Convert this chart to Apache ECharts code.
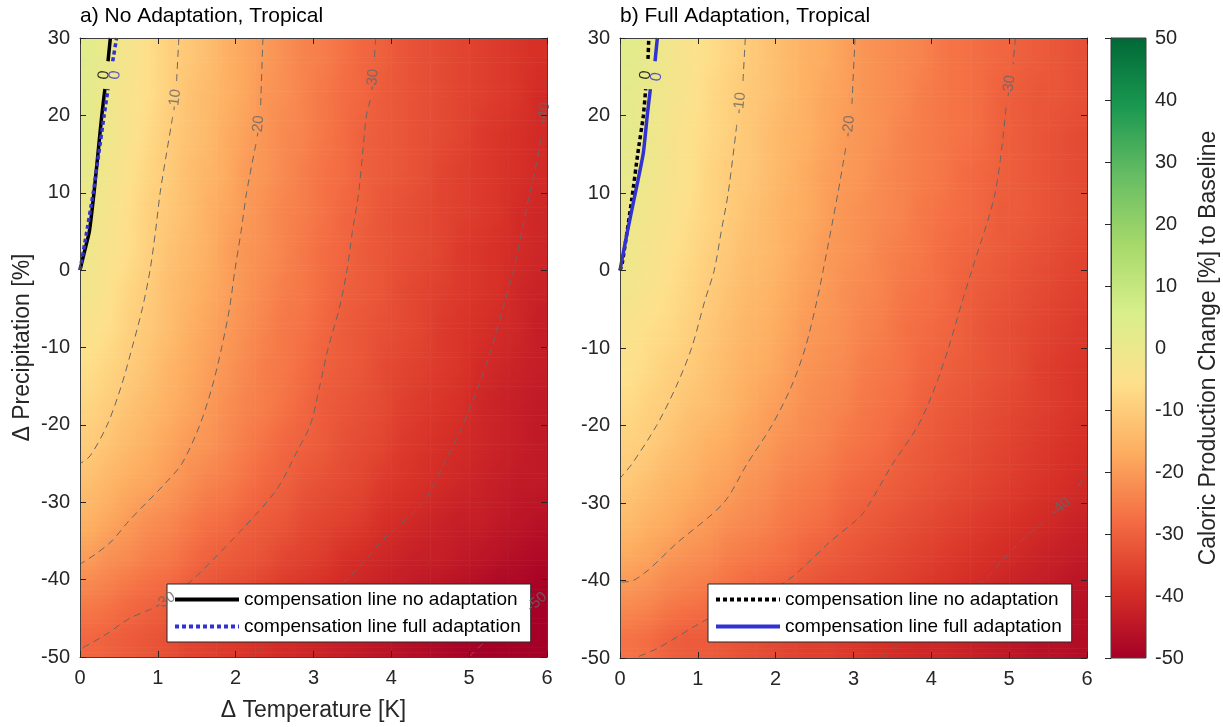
<!DOCTYPE html>
<html>
<head>
<meta charset="utf-8">
<title>Caloric production change, tropical</title>
<script src="https://cdn.jsdelivr.net/npm/echarts@6/dist/echarts.min.js"></script>
<style>
  html, body { margin: 0; padding: 0; background: #fff; }
  #chart { width: 1223px; height: 727px; }
</style>
</head>
<body>
<div id="chart"></div>
<script>
// cell centres of the colour field (K, %)
const tempCenters = [0.125, 0.375, 0.625, 0.875, 1.125, 1.375, 1.625, 1.875, 2.125, 2.375, 2.625, 2.875,
  3.125, 3.375, 3.625, 3.875, 4.125, 4.375, 4.625, 4.875, 5.125, 5.375, 5.625, 5.875];
const precipCenters = [27.5, 22.5, 17.5, 12.5, 7.5, 2.5, -2.5, -7.5, -12.5, -17.5, -22.5, -27.5, -32.5, -37.5, -42.5, -47.5];
const T_STEP = 0.25, P_STEP = 5;

// caloric production change [%], one row per precipCenters entry
const heatNoAdapt = [
  [3, 0, -3, -6, -9, -11, -13, -16, -18, -20, -22, -24, -25, -27, -29, -30, -32, -33, -34, -35, -36, -37, -38, -39],
  [2, -1, -4, -6, -9, -12, -14, -16, -18, -21, -22, -24, -26, -28, -29, -31, -32, -33, -34, -35, -36, -37, -38, -40],
  [2, -1, -4, -7, -10, -12, -14, -17, -19, -21, -23, -24, -26, -28, -30, -31, -32, -33, -34, -35, -37, -38, -39, -40],
  [1, -2, -5, -8, -10, -13, -15, -17, -20, -21, -23, -25, -27, -28, -30, -31, -32, -33, -35, -36, -37, -38, -39, -40],
  [0, -3, -6, -9, -11, -13, -16, -18, -20, -22, -24, -25, -27, -29, -30, -32, -33, -34, -35, -36, -37, -38, -40, -41],
  [-1, -4, -6, -9, -12, -14, -16, -19, -21, -22, -24, -26, -28, -29, -31, -32, -33, -34, -35, -37, -38, -39, -40, -41],
  [-2, -5, -8, -10, -13, -15, -17, -19, -21, -23, -25, -26, -28, -30, -31, -32, -34, -35, -36, -37, -38, -39, -41, -42],
  [-4, -6, -9, -11, -13, -16, -18, -20, -22, -24, -26, -27, -29, -31, -32, -33, -34, -35, -37, -38, -39, -40, -41, -43],
  [-6, -8, -10, -12, -15, -17, -19, -21, -23, -25, -26, -28, -30, -31, -32, -34, -35, -36, -37, -38, -40, -41, -42, -43],
  [-8, -10, -12, -14, -16, -18, -20, -22, -24, -25, -27, -29, -31, -32, -33, -34, -36, -37, -38, -39, -41, -42, -43, -44],
  [-10, -12, -14, -16, -18, -20, -21, -23, -25, -27, -29, -30, -31, -33, -34, -35, -37, -38, -39, -40, -41, -42, -43, -44],
  [-13, -15, -17, -18, -20, -22, -24, -25, -27, -29, -30, -32, -33, -34, -35, -37, -38, -39, -40, -41, -42, -43, -44, -44],
  [-16, -18, -20, -22, -23, -25, -27, -28, -30, -31, -32, -34, -35, -36, -37, -39, -40, -41, -42, -43, -43, -44, -45, -46],
  [-20, -22, -23, -25, -26, -28, -30, -31, -32, -33, -35, -36, -37, -39, -40, -41, -42, -43, -43, -44, -45, -46, -47, -48],
  [-25, -26, -28, -29, -30, -32, -33, -34, -35, -37, -38, -39, -40, -41, -42, -43, -44, -45, -46, -47, -48, -49, -49, -50],
  [-29, -30, -31, -32, -33, -35, -36, -37, -38, -39, -40, -41, -42, -43, -44, -45, -46, -47, -48, -49, -50, -50, -50, -50]
];
const heatFullAdapt = [
  [3, 1, -2, -4, -6, -8, -10, -12, -14, -16, -17, -19, -21, -22, -23, -24, -26, -27, -28, -29, -30, -31, -32, -33],
  [2, 0, -2, -4, -7, -9, -11, -12, -14, -16, -18, -19, -21, -22, -23, -25, -26, -27, -28, -30, -31, -32, -32, -33],
  [2, 0, -3, -5, -7, -9, -11, -13, -15, -16, -18, -20, -21, -22, -24, -25, -26, -27, -28, -30, -31, -32, -33, -34],
  [1, -1, -3, -5, -8, -10, -11, -13, -15, -17, -19, -20, -21, -23, -24, -25, -26, -28, -29, -30, -31, -32, -33, -34],
  [0, -2, -4, -6, -8, -10, -12, -14, -16, -17, -19, -21, -22, -23, -24, -26, -27, -28, -29, -31, -31, -32, -33, -34],
  [-1, -3, -5, -7, -9, -11, -13, -14, -16, -18, -20, -21, -22, -24, -25, -26, -28, -29, -30, -31, -32, -33, -34, -35],
  [-2, -4, -6, -8, -10, -12, -14, -15, -17, -19, -20, -22, -23, -24, -26, -27, -28, -30, -31, -32, -33, -34, -35, -36],
  [-4, -6, -7, -9, -11, -13, -15, -16, -18, -20, -21, -22, -24, -25, -27, -28, -29, -30, -32, -33, -34, -35, -36, -37],
  [-5, -7, -9, -10, -12, -14, -16, -17, -19, -21, -22, -23, -25, -26, -27, -29, -30, -31, -32, -33, -34, -36, -37, -38],
  [-7, -9, -10, -12, -13, -15, -17, -19, -20, -22, -23, -24, -26, -27, -28, -30, -31, -32, -33, -34, -35, -36, -37, -38],
  [-9, -10, -12, -14, -16, -17, -19, -20, -22, -23, -24, -26, -27, -28, -30, -31, -32, -33, -34, -35, -36, -37, -38, -39],
  [-11, -13, -15, -16, -18, -19, -21, -22, -24, -25, -26, -28, -29, -30, -31, -32, -33, -34, -35, -36, -37, -38, -39, -40],
  [-14, -16, -17, -19, -20, -22, -23, -24, -26, -27, -28, -30, -31, -32, -33, -34, -35, -36, -37, -38, -39, -40, -41, -42],
  [-18, -19, -21, -22, -23, -25, -26, -27, -28, -30, -31, -32, -33, -34, -35, -36, -37, -38, -39, -40, -41, -42, -43, -44],
  [-22, -23, -25, -26, -27, -28, -30, -31, -32, -33, -34, -35, -35, -36, -37, -38, -39, -40, -41, -42, -43, -44, -45, -46],
  [-27, -28, -30, -31, -31, -32, -33, -34, -35, -36, -36, -37, -38, -39, -40, -41, -41, -42, -43, -44, -45, -46, -46, -47]
];

// dashed iso-lines [T, P]; null = gap left for the inline label
const isoNoAdapt = [
  [[1.27, 30], [1.24, 24.2], null, [1.19, 19.8], [1.11, 15], [1.03, 10], [0.97, 5], [0.9, 0], [0.8, -5], [0.67, -10], [0.53, -15], [0.35, -20], [0.13, -24], [0, -25]],
  [[2.35, 30], [2.32, 21], null, [2.26, 16.3], [2.14, 10], [2.07, 5], [1.99, 0], [1.92, -5], [1.82, -10], [1.7, -15], [1.54, -20], [1.31, -25], [1.1, -27.5], [0.86, -30], [0.62, -32.5], [0.41, -35], [0.2, -36.7], [0, -38]],
  [[3.8, 30], [3.78, 27], null, [3.73, 22], [3.68, 20], [3.63, 15], [3.58, 10], [3.5, 5], [3.43, 0], [3.33, -5], [3.19, -10], [3.08, -15], [2.96, -20], [2.8, -23.2], [2.53, -28.3], [2.12, -33.1], [1.45, -40], [1.25, -41.4], null, [0.92, -43.8], [0.64, -45], [0.3, -47.3], [0, -49]],
  [[6.02, 26.5], [6, 24], null, [5.92, 17], [5.85, 13], [5.78, 10], [5.57, 0], [5.46, -4], [5.29, -10], [5.12, -15], [4.92, -20], [4.68, -25], [4.41, -30], [3.88, -35], [3.43, -40], [3, -43], [2.6, -46.5], [2.2, -50]],
  [[5, -50], [5.14, -48.6], [5.45, -46], [5.72, -44], null, [6.02, -41.2]]
];
const isoFullAdapt = [
  [[1.61, 30], [1.58, 24.4], null, [1.5, 18.8], [1.39, 10], [1.3, 5], [1.21, 0], [1.09, -3.9], [0.92, -10], [0.72, -15], [0.47, -20], [0.15, -25], [0, -26.8]],
  [[3.02, 30], [2.98, 21.5], null, [2.9, 15.8], [2.8, 10], [2.61, 0], [2.53, -3.9], [2.38, -10], [2.2, -15], [1.95, -20], [1.63, -25], [1.33, -30], [0.75, -35], [0.17, -40], [0, -40.2]],
  [[5.08, 30], [5.05, 26.6], null, [4.96, 21], [4.82, 10], [4.52, 0], [4.4, -3.9], [4.22, -10], [4.05, -15], [3.83, -20], [3.5, -25], [3.21, -30], [3.08, -31.8], [2.7, -35], [2.15, -40], [1.6, -42.8], [1.12, -45], [0.51, -48.6], [0.22, -49.9], [0.15, -50.2]],
  [[6.02, -25.7], [5.85, -28.5], null, [5.45, -32.5], [5.14, -35], [4.67, -40], [4.2, -43.5], [3.75, -47], [3.34, -50]]
];
// zero lines (compensation lines)
const zeroNoAdaptA = [[0, 0], [0.06, 2.5], [0.12, 5], [0.18, 10], [0.23, 15], [0.28, 20], [0.32, 23.4], null, [0.36, 27], [0.39, 30]];
const zeroFullAdaptA = [[0, 0], [0.07, 4], [0.17, 10], [0.24, 15], [0.31, 20], [0.36, 23.4], null, [0.42, 27], [0.47, 30]];
const zeroNoAdaptB = [[0, 0], [0.03, 1], [0.15, 9.1], [0.23, 15.2], [0.3, 20], [0.33, 23.4], null, [0.36, 27.3], [0.37, 30]];
const zeroFullAdaptB = [[0, 0], [0.09, 4.8], [0.23, 11.6], [0.3, 15.2], [0.35, 20], [0.39, 23.4], null, [0.45, 27], [0.48, 30]];

// inline labels [T, P, text, angle]
const isoLabelsA = [[1.22, 22, '-10', 83], [2.29, 18.6, '-20', 84], [3.76, 24.6, '-30', 84], [5.96, 20.3, '-40', 82], [1.09, -42.8, '-30', 32], [5.87, -42.9, '-50', 42]];
const isoLabelsB = [[1.54, 21.6, '-10', 84], [2.94, 18.6, '-20', 84], [5.0, 23.8, '-30', 83], [5.66, -30.5, '-40', 40]];
const zeroLabelsA = [[0.31, 25.2, '0', 84, '#000'], [0.45, 25.2, '0', 84, '#3232d2']];
const zeroLabelsB = [[0.33, 25.2, '0', 84, '#000'], [0.47, 25.0, '0', 84, '#3232d2']];

const CB_MIN = -50, CB_MAX = 50;
const RDYLGN = ['#a50026', '#d73027', '#f46d43', '#fdae61', '#fee08b', '#d9ef8b', '#a6d96a', '#66bd63', '#1a9850', '#006837'];
const FONT = '"Liberation Sans", Arial, Helvetica, sans-serif';
const INK = '#262626';
const BLUE = '#3232d2';
const NAME_NO = 'compensation line no adaptation';
const NAME_FULL = 'compensation line full adaptation';
const SHADE_STRIPS = 8; // interp shading inside each cell

function toCells(rows) {
  const out = [];
  rows.forEach((row, i) => row.forEach((v, j) => out.push([tempCenters[j], precipCenters[i], v])));
  return out;
}

function colorOf(v) {
  const n = (Math.max(CB_MIN, Math.min(CB_MAX, v)) - CB_MIN) / (CB_MAX - CB_MIN);
  return echarts.color.lerp(n, RDYLGN);
}

// smooth shading between the read cell centres, like matlab's "shading interp"
function shadeAt(rows, t, p) {
  const nR = rows.length, nC = rows[0].length;
  const fj = Math.max(0, Math.min(nC - 1, (t - tempCenters[0]) / T_STEP));
  const fi = Math.max(0, Math.min(nR - 1, (precipCenters[0] - p) / P_STEP));
  const j0 = Math.min(Math.floor(fj), nC - 2), i0 = Math.min(Math.floor(fi), nR - 2);
  const dx = fj - j0, dy = fi - i0;
  const top = rows[i0][j0] * (1 - dx) + rows[i0][j0 + 1] * dx;
  const bot = rows[i0 + 1][j0] * (1 - dx) + rows[i0 + 1][j0 + 1] * dx;
  return top * (1 - dy) + bot * dy;
}

function cellRenderer(rows) {
  return function (params, api) {
    const t = api.value(0), p = api.value(1);
    const x0 = api.coord([t - T_STEP / 2, p])[0];
    const x1 = api.coord([t + T_STEP / 2, p])[0];
    const children = [];
    for (let k = 0; k < SHADE_STRIPS; k++) {
      const pTop = p + P_STEP / 2 - k * P_STEP / SHADE_STRIPS;
      const pBot = pTop - P_STEP / SHADE_STRIPS;
      const pMid = (pTop + pBot) / 2;
      const yTop = api.coord([t, pTop])[1];
      const yBot = api.coord([t, pBot])[1];
      const stops = [0, 0.5, 1].map(f => ({ offset: f, color: colorOf(shadeAt(rows, t - T_STEP / 2 + f * T_STEP, pMid)) }));
      children.push({
        type: 'rect',
        shape: { x: x0, y: yTop, width: x1 - x0 + 0.6, height: yBot - yTop + 0.6 },
        style: { fill: new echarts.graphic.LinearGradient(0, 0, 1, 0, stops) }
      });
    }
    return { type: 'group', children };
  };
}

function renderColorbar(params, api) {
  const a = api.coord([0, CB_MAX]);
  const b = api.coord([1, CB_MIN]);
  const stops = RDYLGN.slice().reverse().map((c, i) => ({ offset: i / (RDYLGN.length - 1), color: c }));
  return {
    type: 'rect',
    shape: { x: a[0], y: a[1], width: b[0] - a[0], height: b[1] - a[1] },
    style: { fill: new echarts.graphic.LinearGradient(0, 0, 0, 1, stops), stroke: '#404040', lineWidth: 1 }
  };
}

function heatSeries(rows, ax) {
  return {
    type: 'custom', xAxisIndex: ax, yAxisIndex: ax, renderItem: cellRenderer(rows),
    data: toCells(rows), encode: { x: 0, y: 1 }, clip: true, silent: true, z: 1
  };
}

function lineSeries(name, pts, ax, style, smooth) {
  return {
    type: 'line', name, xAxisIndex: ax, yAxisIndex: ax, symbol: 'none', silent: true,
    connectNulls: false, smooth: smooth || false, data: pts.map(p => p || ['-', '-']), lineStyle: style,
    itemStyle: { color: style.color }, z: 3
  };
}

function labelSeries(items, ax, size, defColor) {
  return {
    type: 'scatter', xAxisIndex: ax, yAxisIndex: ax, symbolSize: 1, silent: true, z: 4,
    itemStyle: { color: 'rgba(0,0,0,0)' },
    data: items.map(l => ({
      name: l[2], value: [l[0], l[1]],
      label: { rotate: l[3], color: l[4] || defColor }
    })),
    label: { show: true, position: 'inside', formatter: '{b}', fontSize: size, fontFamily: FONT }
  };
}

const isoStyle = { color: '#666', width: 1, type: [7, 5] };

function panelAxes(gridIndex, withNames) {
  const tick = { inside: true, length: 6, lineStyle: { color: INK } };
  const line = { show: true, onZero: false, lineStyle: { color: '#404040', width: 1 } };
  const lbl = { fontSize: 20, color: INK, fontFamily: FONT, showMinLabel: true, showMaxLabel: true };
  const nameStyle = { fontSize: 23, color: INK, fontFamily: FONT };
  const x = [
    { type: 'value', gridIndex, min: 0, max: 6, interval: 1, position: 'bottom', z: 10,
      axisLine: line, axisTick: tick, splitLine: { show: false }, axisLabel: Object.assign({ margin: 11 }, lbl),
      name: withNames ? 'Δ Temperature [K]' : '', nameLocation: 'middle', nameGap: 42, nameTextStyle: nameStyle },
    { type: 'value', gridIndex, min: 0, max: 6, interval: 1, position: 'top', z: 10,
      axisLine: line, axisTick: tick, splitLine: { show: false }, axisLabel: { show: false } }
  ];
  const y = [
    { type: 'value', gridIndex, min: -50, max: 30, interval: 10, position: 'left', z: 10,
      axisLine: line, axisTick: tick, splitLine: { show: false }, axisLabel: Object.assign({ margin: 10 }, lbl),
      name: withNames ? 'Δ Precipitation [%]' : '', nameLocation: 'middle', nameGap: 46, nameTextStyle: nameStyle },
    { type: 'value', gridIndex, min: -50, max: 30, interval: 10, position: 'right', z: 10,
      axisLine: line, axisTick: tick, splitLine: { show: false }, axisLabel: { show: false } }
  ];
  return { x, y };
}

const pa = panelAxes(0, true);
const pb = panelAxes(1, false);

function legendFor(left, names) {
  return {
    orient: 'vertical', left, top: 584, data: names, selectedMode: false,
    itemWidth: 64, itemHeight: 14, itemGap: 8, padding: [6, 10, 6, 6],
    backgroundColor: '#fff', borderColor: INK, borderWidth: 1, borderRadius: 0,
    itemStyle: { opacity: 0 },
    lineStyle: { width: 4 },
    formatter: n => n.trim(),
    textStyle: { fontSize: 19, color: '#000', fontFamily: FONT }
  };
}

const chart = echarts.init(document.getElementById('chart'), null, { renderer: 'canvas' });
chart.setOption({
  animation: false,
  backgroundColor: '#fff',
  textStyle: { fontFamily: FONT },
  title: [
    { text: 'a) No Adaptation, Tropical', left: 80, top: 6, padding: 0, textStyle: { fontSize: 21, fontWeight: 'normal', color: '#000', fontFamily: FONT } },
    { text: 'b) Full Adaptation, Tropical', left: 620, top: 6, padding: 0, textStyle: { fontSize: 21, fontWeight: 'normal', color: '#000', fontFamily: FONT } }
  ],
  grid: [
    { left: 80, top: 38, width: 467, height: 620, containLabel: false },
    { left: 620, top: 38, width: 467, height: 620, containLabel: false },
    { left: 1111, top: 38, width: 35, height: 620, containLabel: false }
  ],
  xAxis: [...pa.x, ...pb.x, { type: 'value', gridIndex: 2, min: 0, max: 1, show: false }],
  yAxis: [...pa.y, ...pb.y, {
    type: 'value', gridIndex: 2, min: CB_MIN, max: CB_MAX, interval: 10, position: 'right', z: 10,
    axisLine: { show: true, lineStyle: { color: '#404040' } },
    axisTick: { inside: true, length: 6, lineStyle: { color: INK } },
    splitLine: { show: false },
    axisLabel: { fontSize: 20, color: INK, fontFamily: FONT, margin: 9, showMinLabel: true, showMaxLabel: true },
    name: 'Caloric Production Change [%] to Baseline', nameLocation: 'middle', nameGap: 51,
    nameTextStyle: { fontSize: 23, color: INK, fontFamily: FONT }
  }],
  legend: [
    legendFor(167, [NAME_NO, NAME_FULL]),
    legendFor(708, [NAME_NO + ' ', NAME_FULL + ' '])
  ],
  series: [
    heatSeries(heatNoAdapt, 0),
    heatSeries(heatFullAdapt, 2),
    { type: 'custom', xAxisIndex: 4, yAxisIndex: 4, renderItem: renderColorbar, data: [[0, 0]], silent: true, z: 1 },
    ...isoNoAdapt.map(c => lineSeries('', c, 0, isoStyle, 0.3)),
    ...isoFullAdapt.map(c => lineSeries('', c, 2, isoStyle, 0.3)),
    lineSeries(NAME_NO, zeroNoAdaptA, 0, { color: '#000', width: 3.5, type: 'solid' }, 0.2),
    lineSeries(NAME_FULL, zeroFullAdaptA, 0, { color: BLUE, width: 3.5, type: [4, 3] }, 0.2),
    lineSeries(NAME_NO + ' ', zeroNoAdaptB, 2, { color: '#000', width: 3.5, type: [4, 3] }, 0.2),
    lineSeries(NAME_FULL + ' ', zeroFullAdaptB, 2, { color: BLUE, width: 3.5, type: 'solid' }, 0.2),
    labelSeries(isoLabelsA, 0, 15, '#666'),
    labelSeries(isoLabelsB, 2, 15, '#666'),
    labelSeries(zeroLabelsA, 0, 16, '#000'),
    labelSeries(zeroLabelsB, 2, 16, '#000')
  ]
});
</script>
</body>
</html>
